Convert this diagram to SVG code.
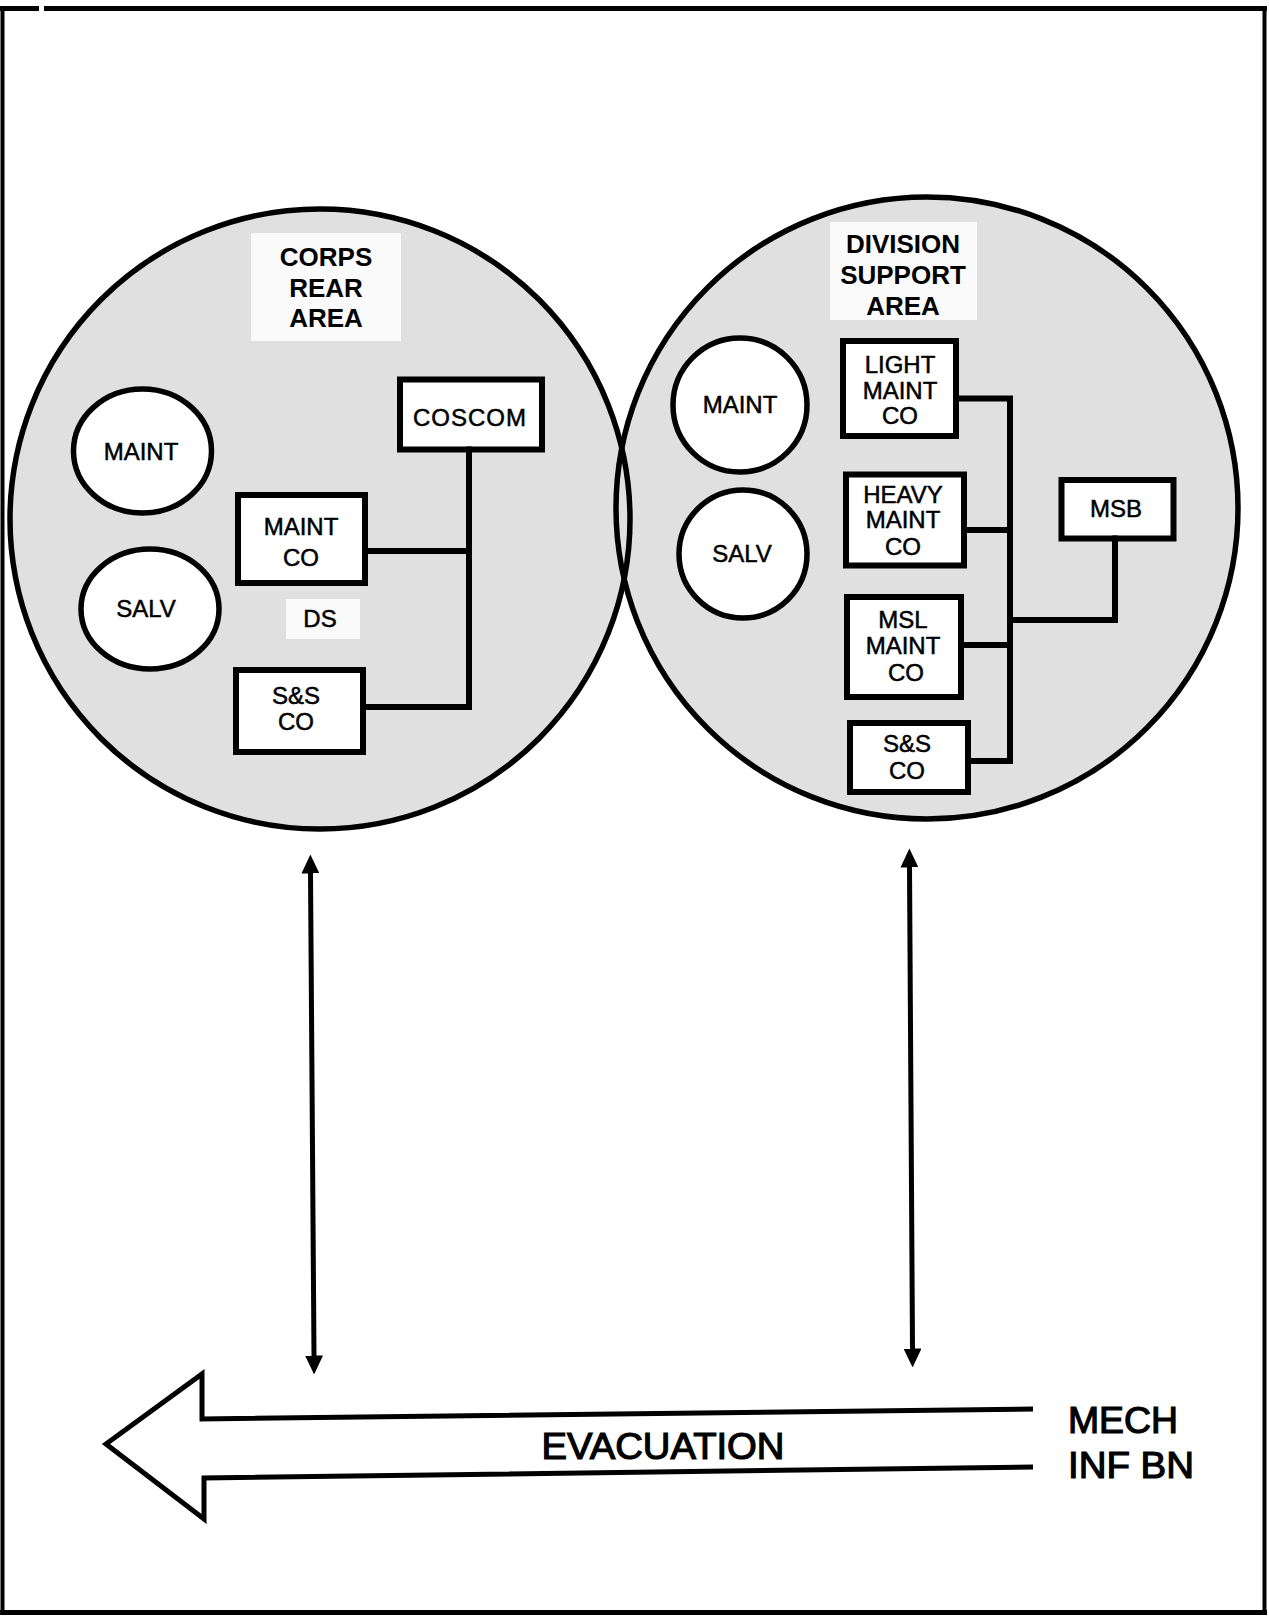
<svg xmlns="http://www.w3.org/2000/svg" width="1269" height="1621" viewBox="0 0 1269 1621">
  <style>
    .area { fill: #e0e0e0; stroke: none; }
    .rim { fill: none; stroke: #000; stroke-width: 5.5; }
    .clear { fill: #fafafa; stroke: none; }
    .box { fill: #fff; stroke: #000; stroke-width: 6; }
    .unit { fill: #fff; stroke: #000; stroke-width: 5.5; }
    .link { fill: none; stroke: #000; stroke-width: 6; stroke-linecap: square; }
    .flow { fill: none; stroke: #000; stroke-width: 5; }
    .lbl { font-family: "Liberation Sans", Arial, Helvetica, sans-serif; font-size: 24px; fill: #000; stroke: #000; stroke-width: 0.5; text-anchor: middle; }
    .ttl { font-family: "Liberation Sans", Arial, Helvetica, sans-serif; font-size: 26px; font-weight: bold; fill: #000; text-anchor: middle; }
    .big { font-family: "Liberation Sans", Arial, Helvetica, sans-serif; font-size: 37px; fill: #000; stroke: #000; stroke-width: 1.2; }
    .frame { fill: none; stroke: #000; }
  </style>
  <defs>
    <marker id="tip" viewBox="0 0 19 18" refX="0.5" refY="9" markerUnits="userSpaceOnUse" markerWidth="19" markerHeight="18" orient="auto-start-reverse">
      <path d="M0,0 L19,9 L0,18 Z" fill="#000"/>
    </marker>
  </defs>

  <rect x="0" y="0" width="1269" height="1621" fill="#fff"/>

  <!-- page border -->
  <g id="border">
    <line class="frame" x1="0" y1="8.5" x2="39" y2="8.5" stroke-width="5"/>
    <line class="frame" x1="44" y1="8.5" x2="1267" y2="8.5" stroke-width="5"/>
    <line class="frame" x1="2.5" y1="8" x2="2.5" y2="1615" stroke-width="4"/>
    <line class="frame" x1="1264.5" y1="6" x2="1264.5" y2="1615" stroke-width="4"/>
    <line class="frame" x1="0" y1="1612.5" x2="1267" y2="1612.5" stroke-width="5"/>
  </g>

  <!-- the two support areas -->
  <g id="corps-rear-area">
    <circle class="area" cx="320" cy="519" r="310"/>
  </g>
  <g id="division-support-area">
    <circle class="area" cx="927" cy="508" r="311"/>
  </g>
  <g id="area-outlines">
    <circle class="rim" cx="320" cy="519" r="310"/>
    <circle class="rim" cx="927" cy="508" r="311"/>
  </g>

  <!-- area titles -->
  <g id="corps-title">
    <rect class="clear" x="251" y="233" width="150" height="108"/>
    <text class="ttl" x="326" y="266">CORPS</text>
    <text class="ttl" x="326" y="297">REAR</text>
    <text class="ttl" x="326" y="327">AREA</text>
  </g>
  <g id="division-title">
    <rect class="clear" x="830" y="222" width="147" height="98"/>
    <text class="ttl" x="903" y="253">DIVISION</text>
    <text class="ttl" x="903" y="284">SUPPORT</text>
    <text class="ttl" x="903" y="315">AREA</text>
  </g>

  <!-- corps rear area units -->
  <g id="corps-maint">
    <ellipse class="unit" cx="142.5" cy="451" rx="69" ry="62"/>
    <text class="lbl" x="141" y="460">MAINT</text>
  </g>
  <g id="corps-salv">
    <ellipse class="unit" cx="150" cy="609" rx="69" ry="60"/>
    <text class="lbl" x="146" y="617">SALV</text>
  </g>
  <g id="coscom">
    <rect class="box" x="400" y="379.5" width="142" height="70"/>
    <text class="lbl" x="470" y="426" letter-spacing="1">COSCOM</text>
  </g>
  <g id="corps-maint-co">
    <rect class="box" x="238" y="495" width="127" height="88"/>
    <text class="lbl" x="301" y="535">MAINT</text>
    <text class="lbl" x="301" y="566">CO</text>
  </g>
  <g id="ds-label">
    <rect class="clear" x="286" y="599" width="74" height="40"/>
    <text class="lbl" x="320" y="627">DS</text>
  </g>
  <g id="corps-ss-co">
    <rect class="box" x="236" y="670" width="127" height="82"/>
    <text class="lbl" x="296" y="704">S&amp;S</text>
    <text class="lbl" x="296" y="730">CO</text>
  </g>

  <!-- division support area units -->
  <g id="div-maint">
    <circle class="unit" cx="740" cy="405" r="67"/>
    <text class="lbl" x="740" y="413">MAINT</text>
  </g>
  <g id="div-salv">
    <circle class="unit" cx="743" cy="554" r="64"/>
    <text class="lbl" x="742" y="562">SALV</text>
  </g>
  <g id="light-maint-co">
    <rect class="box" x="843" y="341" width="113" height="95"/>
    <text class="lbl" x="900" y="373">LIGHT</text>
    <text class="lbl" x="900" y="399">MAINT</text>
    <text class="lbl" x="900" y="424">CO</text>
  </g>
  <g id="heavy-maint-co">
    <rect class="box" x="846" y="474.5" width="118" height="91"/>
    <text class="lbl" x="903" y="503">HEAVY</text>
    <text class="lbl" x="903" y="528">MAINT</text>
    <text class="lbl" x="903" y="555">CO</text>
  </g>
  <g id="msl-maint-co">
    <rect class="box" x="847" y="597" width="114" height="100"/>
    <text class="lbl" x="903" y="628">MSL</text>
    <text class="lbl" x="903" y="654">MAINT</text>
    <text class="lbl" x="906" y="681">CO</text>
  </g>
  <g id="div-ss-co">
    <rect class="box" x="850" y="723" width="118" height="69"/>
    <text class="lbl" x="907" y="752">S&amp;S</text>
    <text class="lbl" x="907" y="779">CO</text>
  </g>
  <g id="msb">
    <rect class="box" x="1061.5" y="480" width="112" height="58.5"/>
    <text class="lbl" x="1116" y="517">MSB</text>
  </g>

  <!-- evacuation route -->
  <g id="evacuation">
    <path d="M1033,1409 L202,1419 L202,1374 L106,1444 L204,1519 L204,1478 L1033,1467" fill="none" stroke="#000" stroke-width="5" stroke-linejoin="miter"/>
    <text class="big" x="663" y="1459" text-anchor="middle" textLength="243" lengthAdjust="spacingAndGlyphs">EVACUATION</text>
  </g>
  <g id="mech-inf-bn">
    <text class="big" x="1068" y="1433" textLength="110" lengthAdjust="spacingAndGlyphs">MECH</text>
    <text class="big" x="1068" y="1478" textLength="126" lengthAdjust="spacingAndGlyphs">INF BN</text>
  </g>

  <!-- connectors -->
  <g id="connectors">
    <path class="link" d="M469,449.5 V707 H363"/>
    <path class="link" d="M365,551 H469"/>
    <path class="link" d="M956,398.5 H1010 V761 H968"/>
    <path class="link" d="M964,530 H1010"/>
    <path class="link" d="M961,645 H1010"/>
    <path class="link" d="M1010,620 H1115 V538.5"/>
    <line class="flow" x1="310.5" y1="873" x2="314" y2="1356" marker-start="url(#tip)" marker-end="url(#tip)"/>
    <line class="flow" x1="909.5" y1="867" x2="912.5" y2="1349" marker-start="url(#tip)" marker-end="url(#tip)"/>
  </g>
</svg>
